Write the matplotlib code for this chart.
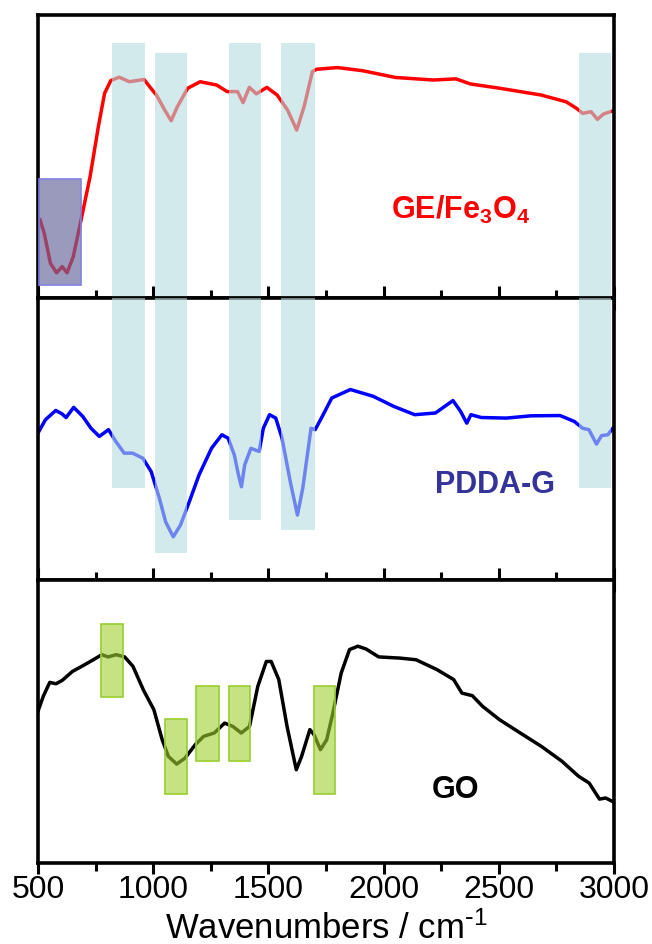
import numpy as np
import matplotlib
matplotlib.use("Agg")
import matplotlib.pyplot as plt

plt.rcParams['font.family'] = ['Liberation Sans', 'DejaVu Sans']
plt.rcParams['mathtext.default'] = 'regular'

# GE/Fe3O4 spectrum (arbitrary units, 0-100 inside the panel)
ge_x = [509, 527, 554, 581, 605, 626, 653, 690, 726, 762, 789, 816, 852, 897, 960,
        987, 1014, 1050, 1078, 1105, 1150, 1204, 1276, 1321, 1366, 1390, 1417, 1448,
        1493, 1538, 1583, 1623, 1655, 1691, 1709, 1800, 1908, 2052, 2215, 2314, 2377,
        2503, 2683, 2792, 2837, 2864, 2900, 2928, 2955, 3000]
ge_y = [27.5, 22.8, 12.1, 8.8, 11.0, 8.8, 14.5, 28.7, 42.8, 60.5, 72.3, 76.8, 78.0,
        76.4, 77.2, 74.4, 71.7, 66.4, 62.6, 67.6, 74.1, 76.4, 75.2, 72.9, 72.9, 69.0,
        74.4, 72.1, 74.4, 71.7, 66.4, 59.3, 67.6, 80.0, 80.8, 81.4, 80.3, 77.9, 77.0,
        77.4, 75.6, 74.1, 71.7, 69.3, 67.0, 65.2, 65.8, 63.1, 65.0, 66.2]

# PDDA-G spectrum
pdda_x = [500, 532, 577, 604, 622, 655, 694, 730, 766, 806, 838, 874, 910, 955, 991,
          1027, 1054, 1087, 1118, 1154, 1199, 1253, 1298, 1325, 1352, 1370, 1383, 1397,
          1424, 1460, 1478, 1505, 1532, 1559, 1595, 1626, 1649, 1685, 1703, 1730, 1775,
          1856, 1955, 2045, 2135, 2225, 2301, 2334, 2361, 2379, 2424, 2532, 2640, 2766,
          2828, 2864, 2891, 2924, 2946, 2973, 2995]
pdda_y = [52.1, 56.8, 60.1, 58.9, 57.6, 61.2, 58.0, 53.8, 50.9, 53.3, 49.1, 45.0, 45.0,
          43.2, 38.5, 29.0, 20.7, 15.4, 19.5, 27.2, 37.3, 46.7, 51.5, 50.3, 44.4, 37.3,
          33.1, 40.8, 46.7, 45.6, 53.8, 58.6, 57.4, 50.3, 34.9, 23.1, 32.5, 53.8, 53.3,
          57.4, 64.5, 67.5, 65.1, 61.5, 58.6, 59.2, 63.6, 59.8, 55.6, 58.6, 57.6, 57.4,
          58.2, 58.3, 56.2, 53.8, 53.3, 48.2, 51.2, 51.5, 53.8]

# GO spectrum
go_x = [500, 523, 551, 578, 605, 650, 695, 740, 777, 804, 840, 876, 912, 957, 1003,
        1039, 1066, 1102, 1138, 1183, 1219, 1265, 1310, 1346, 1382, 1418, 1454, 1491,
        1512, 1545, 1581, 1621, 1644, 1680, 1698, 1726, 1753, 1780, 1816, 1852, 1888,
        1924, 1979, 2069, 2141, 2232, 2304, 2340, 2385, 2430, 2503, 2593, 2684, 2774,
        2846, 2892, 2937, 2964, 3000]
go_y = [53.7, 59.0, 63.9, 63.4, 64.6, 67.8, 69.8, 71.9, 73.7, 72.9, 73.7, 72.9, 69.6,
        61.3, 54.2, 43.6, 37.7, 35.0, 37.1, 41.9, 44.8, 46.0, 49.5, 48.3, 46.0, 48.3,
        62.5, 71.3, 71.3, 64.9, 48.3, 33.0, 37.7, 47.2, 45.4, 40.1, 43.6, 53.1, 67.2,
        75.5, 76.7, 75.7, 72.9, 72.5, 71.9, 68.4, 64.9, 60.1, 59.2, 55.4, 50.7, 46.0,
        41.3, 36.0, 30.7, 28.3, 22.6, 23.0, 21.5]

# highlighted bands: (x0, x1, top in panel 1, bottom in panel 2)
blue_bands = [(820, 966, 90.2, 32.5), (1007, 1148, 86.7, 9.8), (1330, 1469, 90.2, 21.3),
              (1556, 1704, 90.2, 17.8), (2846, 2987, 86.7, 32.5)]
fe_band = (504, 686, 4.5, 41.9)
# green bands in the GO panel: (x0, x1, bottom, top)
green_bands = [(773, 871, 58.7, 84.7), (1051, 1145, 24.5, 50.9), (1187, 1286, 36.0, 62.5),
               (1328, 1422, 36.0, 62.5), (1697, 1791, 24.5, 62.5)]

fig = plt.figure(figsize=(6.52, 9.44), dpi=100)
gs = fig.add_gridspec(3, 1, left=38/652, right=614/652, bottom=1-863/944, top=1-15/944, hspace=0)
axes = [fig.add_subplot(gs[i]) for i in range(3)]

band_col = '#b7dce1'
for ax in axes:
    ax.set_xlim(500, 3000)
    ax.set_ylim(0, 100)
    ax.set_yticks([])
    ax.set_xticks(np.arange(500, 3001, 500))
    ax.set_xticks(np.arange(750, 3000, 500), minor=True)
    for s in ax.spines.values():
        s.set_linewidth(2.6)

ax1, ax2, ax3 = axes
for ax in (ax1, ax2):
    ax.tick_params(axis='x', which='major', direction='inout', length=17, width=2.2, labelbottom=False)
    ax.tick_params(axis='x', which='minor', direction='inout', length=11, width=2.2)
ax3.tick_params(axis='x', which='major', direction='out', length=8, width=2.2, labelsize=23, pad=1)
ax3.tick_params(axis='x', which='minor', direction='out', length=5.5, width=2.2)

ax1.plot(ge_x, ge_y, color='#ff0000', lw=2.5)
ax2.plot(pdda_x, pdda_y, color='#0000ff', lw=2.5)
ax3.plot(go_x, go_y, color='black', lw=2.5)

for x0, x1, top, bot in blue_bands:
    ax1.axvspan(x0, x1, ymin=0, ymax=top/100, color=band_col, alpha=0.6, lw=0, zorder=3)
    ax2.axvspan(x0, x1, ymin=bot/100, ymax=1, color=band_col, alpha=0.6, lw=0, zorder=3)

ax1.axvspan(fe_band[0], fe_band[1], ymin=fe_band[2]/100, ymax=fe_band[3]/100,
            facecolor=(0.40, 0.40, 0.61, 0.66), edgecolor='#8080e0', lw=1.2, zorder=3)

for x0, x1, bot, top in green_bands:
    ax3.axvspan(x0, x1, ymin=bot/100, ymax=top/100, facecolor=(0.63, 0.82, 0.19, 0.6),
                edgecolor='#9acd32', lw=1.2, zorder=3)

ax1.text(2335, 31, 'GE/Fe$_3$O$_4$', color='#ff0000', fontsize=22, fontweight='bold',
         ha='center', va='center')
ax2.text(2485, 33.7, 'PDDA-G', color='#333399', fontsize=22, fontweight='bold',
         ha='center', va='center')
ax3.text(2313, 25.9, 'GO', color='black', fontsize=22, fontweight='bold',
         ha='center', va='center')

ax3.set_xlabel(r'Wavenumbers / cm$^{\text{-}1}$', fontsize=25, labelpad=4)

fig.savefig('out.png', dpi=100)
